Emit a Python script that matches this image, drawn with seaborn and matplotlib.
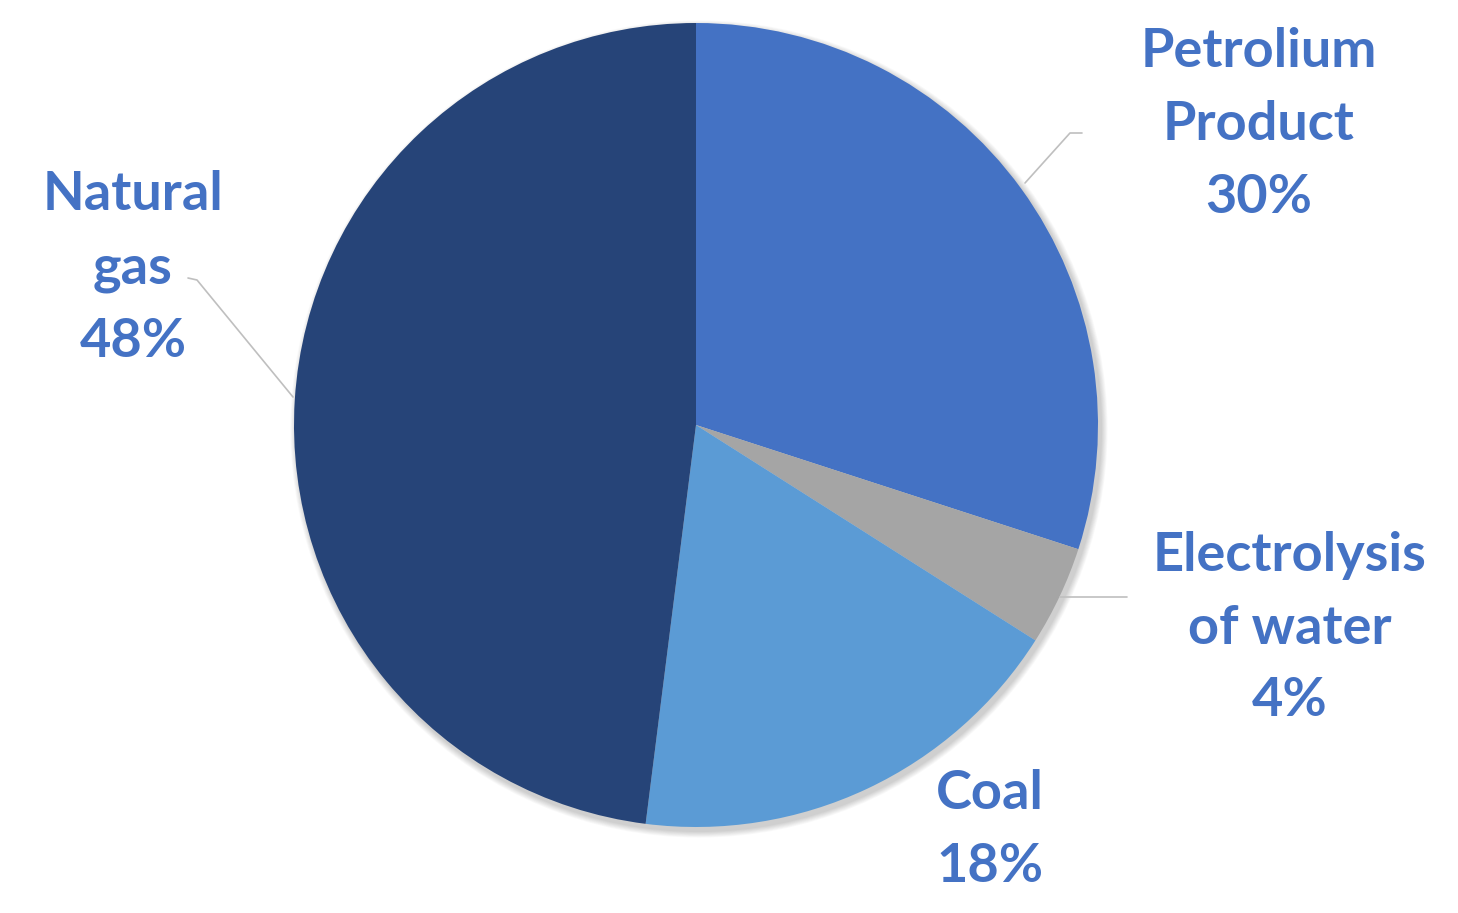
import matplotlib
matplotlib.use("Agg")
import matplotlib.pyplot as plt
import seaborn as sns
from matplotlib.patches import Circle

sns.set_theme(style="white")
plt.rcParams['font.family'] = ['Lato', 'DejaVu Sans']

categories = ["Petrolium\nProduct", "Electrolysis\nof water", "Coal", "Natural\ngas"]
values = [30, 4, 18, 48]
colors = ["#4472C4", "#A5A5A5", "#5B9BD5", "#264478"]

W, H = 1458, 913
fig = plt.figure(figsize=(W / 100, H / 100), dpi=100)
ax = fig.add_axes([0, 0, 1, 1])
ax.set_xlim(0, W)
ax.set_ylim(0, H)
ax.set_aspect("equal")
ax.axis("off")

cx, cy, r = 696, H - 425, 402

# soft shadow
for i in range(8):
    ax.add_patch(Circle((cx + 3, cy - 4), r + 1 + i * 0.8, color="black",
                        alpha=0.025, lw=0, zorder=0))

ax.pie(values, colors=colors, startangle=90, counterclock=False,
       center=(cx, cy), radius=r, frame=True,
       wedgeprops=dict(linewidth=0))
ax.set_xlim(0, W)
ax.set_ylim(0, H)
ax.axis("off")

label_pos = [(1259, 124), (1290, 628), (990, 830), (133, 268)]
txtcol = "#4472C4"
for cat, v, (x, y) in zip(categories, values, label_pos):
    ax.text(x, H - y, f"{cat}\n{v}%", ha="center", va="center",
            fontsize=39, fontweight="bold", color=txtcol, linespacing=1.6)

lc = "#BFBFBF"
ax.plot([1025, 1070, 1082], [H - 183, H - 133, H - 133], color=lc, lw=1.2)
ax.plot([188, 197, 293], [H - 278, H - 280, H - 397], color=lc, lw=1.2)
ax.plot([1060, 1127], [H - 597, H - 597], color=lc, lw=1.2)

fig.savefig("out.png", dpi=100)
